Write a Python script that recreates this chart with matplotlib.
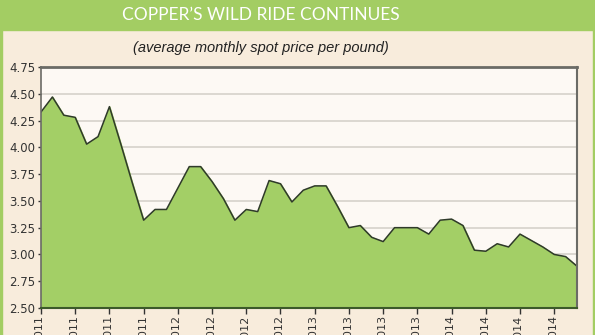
import matplotlib
matplotlib.use("Agg")
import matplotlib.pyplot as plt
import numpy as np
from matplotlib.patches import Rectangle

# monthly average spot price, Jan 2011 - Dec 2014
months = ["Jan", "Feb", "Mar", "Apr", "May", "Jun",
          "Jul", "Aug", "Sep", "Oct", "Nov", "Dec"]
years = [2011, 2012, 2013, 2014]
prices = [4.33, 4.47, 4.30, 4.28, 4.03, 4.10, 4.38, 4.03, 3.67, 3.32, 3.42, 3.42,
          3.62, 3.82, 3.82, 3.68, 3.52, 3.32, 3.42, 3.40, 3.69, 3.66, 3.49, 3.60,
          3.64, 3.64, 3.45, 3.25, 3.27, 3.16, 3.12, 3.25, 3.25, 3.25, 3.19, 3.32,
          3.33, 3.27, 3.04, 3.03, 3.10, 3.07, 3.19, 3.13, 3.07, 3.00, 2.98, 2.89]
yticks = [2.50, 2.75, 3.00, 3.25, 3.50, 3.75, 4.00, 4.25, 4.50, 4.75]

labels = [f"{m} {y}" for y in years for m in months]
x = np.arange(len(prices))

narrow = ["Liberation Sans Narrow", "DejaVu Sans"]

fig = plt.figure(figsize=(5.95, 3.35), dpi=100)
fig.patch.set_facecolor("#f8ecdc")

# green frame and title bar
fig.add_artist(Rectangle((0, 0), 0.004, 1, transform=fig.transFigure,
                         color="#a3cd63", zorder=0))
fig.add_artist(Rectangle((0.996, 0), 0.004, 1, transform=fig.transFigure,
                         color="#a3cd63", zorder=0))
fig.add_artist(Rectangle((0, 1 - 30 / 335), 1, 30 / 335, transform=fig.transFigure,
                         color="#a3cd63", zorder=0))
fig.text(0.439, 1 - 15.5 / 335, "COPPER\u2019S WILD RIDE CONTINUES", color="white",
         fontsize=12.5, family=["Lato", "DejaVu Sans"],
         ha="center", va="center")
fig.text(0.439, 1 - 48 / 335, "(average monthly spot price per pound)",
         fontsize=10.5, style="italic", family=["Liberation Sans", "DejaVu Sans"],
         color="#222222", ha="center", va="center")

ax = fig.add_axes([41 / 595, 27 / 335, 536 / 595, 241 / 335])
ax.set_facecolor("#fdf9f4")
ax.fill_between(x, prices, 2.5, color="#a3cf66", zorder=2)
ax.plot(x, prices, color="#2f3a2a", linewidth=1.1, zorder=3)

ax.set_xlim(0, len(prices) - 1)
ax.set_ylim(2.5, 4.75)
ax.set_yticks(yticks)
ax.set_yticklabels([f"{v:.2f}" for v in yticks], family=narrow, fontsize=8.5,
                   color="#333333")
ax.set_xticks(x[::3])
ax.set_xticklabels(labels[::3], rotation=90, family=narrow, fontsize=8,
                   color="#333333")
ax.yaxis.grid(True, color="#d6d2cb", linewidth=1.2, zorder=1)
ax.set_axisbelow(True)
ax.tick_params(axis="x", length=4, width=1, color="#333333", pad=2)
ax.tick_params(axis="y", length=2, width=1, color="#333333", pad=2)

for side in ["top", "right", "left"]:
    ax.spines[side].set_color("#6b6b66")
ax.spines["top"].set_linewidth(2)
ax.spines["right"].set_linewidth(1.5)
ax.spines["left"].set_linewidth(1.2)
ax.spines["bottom"].set_color("#3c5a2a")
ax.spines["bottom"].set_linewidth(1.5)
for s in ax.spines.values():
    s.set_zorder(4)

fig.savefig("out.png", dpi=100, facecolor=fig.get_facecolor())
